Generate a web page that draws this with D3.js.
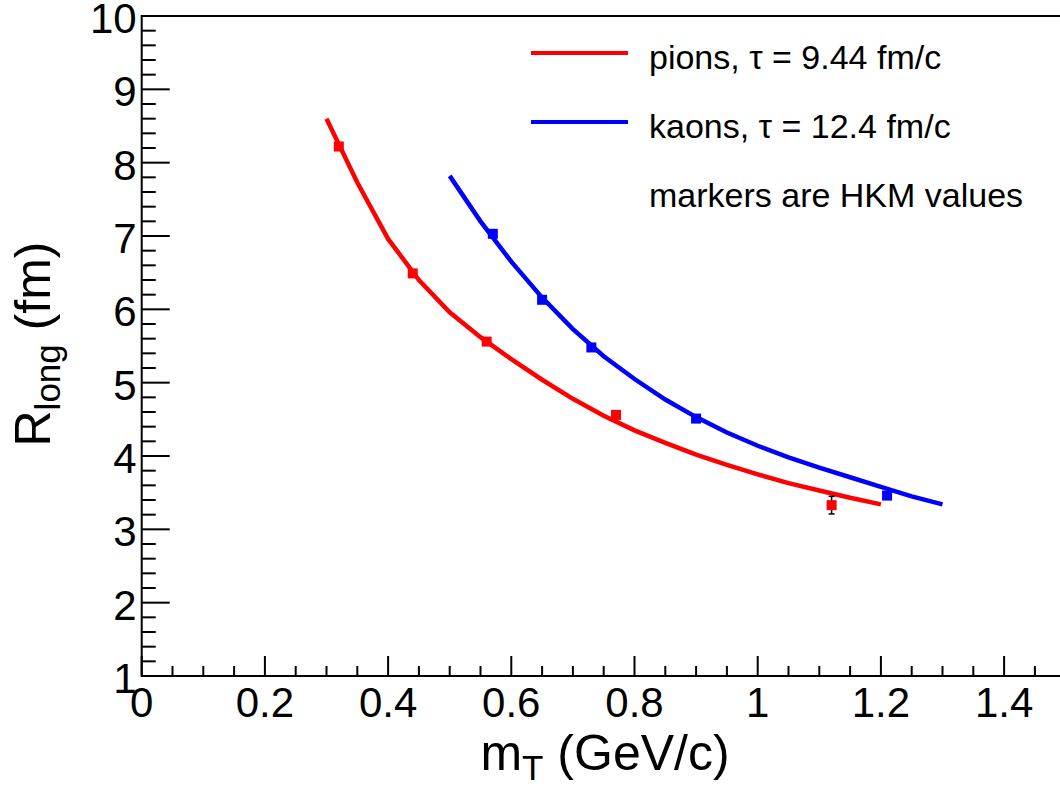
<!DOCTYPE html>
<html>
<head>
<meta charset="utf-8">
<script src="https://cdn.jsdelivr.net/npm/d3@7"></script>
<style>
  body { margin: 0; background: #fff; }
  svg { display: block; font-family: 'Liberation Sans', Arial, sans-serif; }
</style>
</head>
<body>
<svg></svg>
<script>
// model curves
let pionMt = [0.30, 0.35, 0.40, 0.45, 0.50, 0.55, 0.60, 0.65, 0.70, 0.75, 0.80, 0.85, 0.90, 0.95, 1.00, 1.05, 1.10, 1.15, 1.20]
let pionR  = [8.60, 7.73, 6.96, 6.40, 5.96, 5.62, 5.32, 5.04, 4.78, 4.55, 4.35, 4.18, 4.02, 3.88, 3.75, 3.63, 3.53, 3.43, 3.34]

let kaonMt = [0.50, 0.55, 0.60, 0.65, 0.70, 0.75, 0.80, 0.85, 0.90, 0.95, 1.00, 1.05, 1.10, 1.15, 1.20, 1.25, 1.30]
let kaonR  = [7.82, 7.20, 6.65, 6.16, 5.73, 5.36, 5.05, 4.77, 4.53, 4.32, 4.14, 3.98, 3.84, 3.71, 3.58, 3.45, 3.34]

// HKM markers
let pionHkmMt  = [0.32, 0.44, 0.56, 0.77, 1.12]
let pionHkmR   = [8.22, 6.49, 5.56, 4.56, 3.33]
let pionHkmErr = [0, 0, 0, 0, 0.12]

let kaonHkmMt = [0.57, 0.65, 0.73, 0.90, 1.21]
let kaonHkmR  = [7.03, 6.13, 5.48, 4.51, 3.46]

let xTicks = [0, 0.2, 0.4, 0.6, 0.8, 1, 1.2, 1.4]
let yTicks = [1, 2, 3, 4, 5, 6, 7, 8, 9, 10]

let legendLabels = ['pions, \u03c4 = 9.44 fm/c', 'kaons, \u03c4 = 12.4 fm/c', 'markers are HKM values']

let width = 1060
let height = 786

let svg = d3.select('svg')
            .attr('width', width)
            .attr('height', height)

let xScale = d3.scaleLinear()
               .domain([0, 1.5])
               .range([141.7, 141.7 + 1.5 * 616])

let yScale = d3.scaleLinear()
               .domain([1, 10])
               .range([676, 16])

let zip = (xs, ys) => xs.map((x, i) => [x, ys[i]])

let drawAxes = () => {
    let minorX = d3.range(0, 30).map(i => i * 0.05)
    let minorY = d3.range(0, 46).map(i => 1 + i * 0.2)

    let xAxis = svg.append('g')
                   .attr('transform', 'translate(0,' + yScale(1) + ')')
    xAxis.selectAll('line.minor')
         .data(minorX)
         .enter()
         .append('line')
         .attr('x1', d => xScale(d))
         .attr('x2', d => xScale(d))
         .attr('y1', 0)
         .attr('y2', (d, i) => i % 4 == 0 ? -20 : -10)
         .attr('stroke', '#000')
         .attr('stroke-width', 2)
    xAxis.selectAll('text')
         .data(xTicks)
         .enter()
         .append('text')
         .attr('x', d => xScale(d))
         .attr('y', 41)
         .attr('text-anchor', 'middle')
         .attr('font-size', 42)
         .text(d => d3.format('~g')(d))

    let yAxis = svg.append('g')
                   .attr('transform', 'translate(' + xScale(0) + ',0)')
    yAxis.selectAll('line.minor')
         .data(minorY)
         .enter()
         .append('line')
         .attr('y1', d => yScale(d))
         .attr('y2', d => yScale(d))
         .attr('x1', 0)
         .attr('x2', (d, i) => i % 5 == 0 ? 28 : 14)
         .attr('stroke', '#000')
         .attr('stroke-width', 2)
    yAxis.selectAll('text')
         .data(yTicks)
         .enter()
         .append('text')
         .attr('x', -5)
         .attr('y', d => yScale(d) + 17)
         .attr('text-anchor', 'end')
         .attr('font-size', 42)
         .text(d => d)

    // frame
    svg.append('rect')
       .attr('x', xScale(0))
       .attr('y', yScale(10))
       .attr('width', xScale(1.5) - xScale(0))
       .attr('height', yScale(1) - yScale(10))
       .attr('fill', 'none')
       .attr('stroke', '#000')
       .attr('stroke-width', 2)

    // titles
    let xt = svg.append('text')
                .attr('x', 605)
                .attr('y', 770)
                .attr('text-anchor', 'middle')
                .attr('font-size', 50)
    xt.append('tspan').text('m')
    xt.append('tspan').attr('font-size', 35).attr('dy', 10).text('T')
    xt.append('tspan').attr('dy', -10).text(' (GeV/c)')

    let yt = svg.append('text')
                .attr('transform', 'translate(50,344) rotate(-90)')
                .attr('text-anchor', 'middle')
                .attr('font-size', 50)
    yt.append('tspan').text('R')
    yt.append('tspan').attr('font-size', 35).attr('dy', 10).text('long')
    yt.append('tspan').attr('dy', -10).text(' (fm)')
}

let drawCurves = () => {
    let line = d3.line()
                 .x(d => xScale(d[0]))
                 .y(d => yScale(d[1]))

    svg.append('path')
       .datum(zip(pionMt, pionR))
       .attr('d', line)
       .attr('fill', 'none')
       .attr('stroke', '#ff0000')
       .attr('stroke-width', 4.5)

    svg.append('path')
       .datum(zip(kaonMt, kaonR))
       .attr('d', line)
       .attr('fill', 'none')
       .attr('stroke', '#0000ff')
       .attr('stroke-width', 4.5)
}

let drawMarkers = () => {
    let pions = pionHkmMt.map((x, i) => ({ x: x, y: pionHkmR[i], e: pionHkmErr[i] }))
    let kaons = zip(kaonHkmMt, kaonHkmR)

    let errs = pions.filter(d => d.e > 0)
    svg.selectAll('line.err')
       .data(errs)
       .enter()
       .append('line')
       .attr('x1', d => xScale(d.x))
       .attr('x2', d => xScale(d.x))
       .attr('y1', d => yScale(d.y - d.e))
       .attr('y2', d => yScale(d.y + d.e))
       .attr('stroke', '#000')
       .attr('stroke-width', 1.5)
    errs.forEach(d => {
        [d.y - d.e, d.y + d.e].forEach(v => {
            svg.append('line')
               .attr('x1', xScale(d.x) - 3)
               .attr('x2', xScale(d.x) + 3)
               .attr('y1', yScale(v))
               .attr('y2', yScale(v))
               .attr('stroke', '#000')
               .attr('stroke-width', 1.5)
        })
    })

    svg.selectAll('rect.pion')
       .data(pions)
       .enter()
       .append('rect')
       .attr('x', d => xScale(d.x) - 5)
       .attr('y', d => yScale(d.y) - 5)
       .attr('width', 10)
       .attr('height', 10)
       .attr('fill', '#ff0000')

    svg.selectAll('rect.kaon')
       .data(kaons)
       .enter()
       .append('rect')
       .attr('x', d => xScale(d[0]) - 5)
       .attr('y', d => yScale(d[1]) - 5)
       .attr('width', 10)
       .attr('height', 10)
       .attr('fill', '#0000ff')
}

let drawLegend = () => {
    let colors = ['#ff0000', '#0000ff', null]
    let rows = svg.selectAll('g.leg')
                  .data(legendLabels)
                  .enter()
                  .append('g')
                  .attr('transform', (d, i) => 'translate(0,' + (69 + i * 69) + ')')
    rows.filter((d, i) => colors[i])
        .append('line')
        .attr('x1', 531)
        .attr('x2', 628)
        .attr('y1', -16)
        .attr('y2', -16)
        .attr('stroke', (d, i) => colors[i])
        .attr('stroke-width', 4)
    rows.append('text')
        .attr('x', 649)
        .attr('y', 0)
        .attr('font-size', 34)
        .text(d => d)
}

drawAxes()
drawCurves()
drawMarkers()
drawLegend()
</script>
</body>
</html>
